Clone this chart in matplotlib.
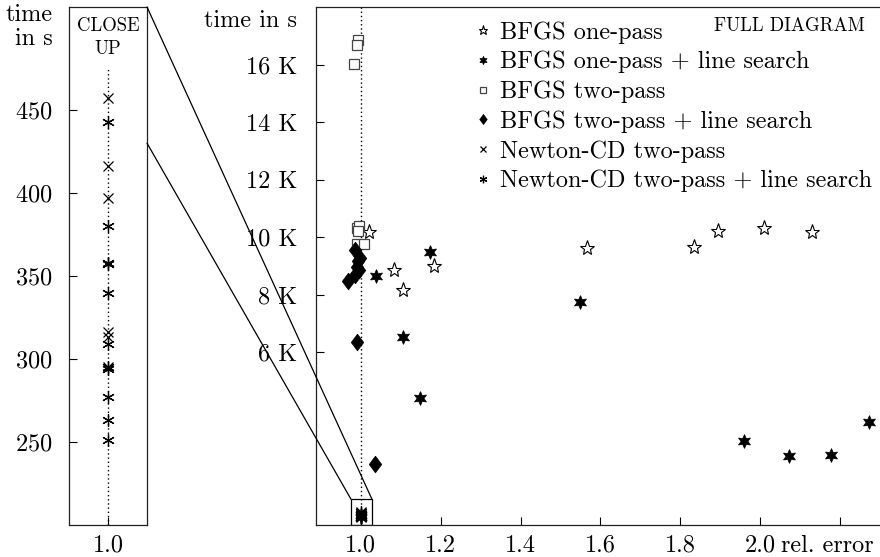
import matplotlib
matplotlib.use("Agg")
import matplotlib.pyplot as plt
from matplotlib.patches import Rectangle, ConnectionPatch
from matplotlib.transforms import ScaledTranslation

plt.rcParams["font.family"] = ["cmr10", "DejaVu Serif"]
plt.rcParams["axes.formatter.use_mathtext"] = True

# ---- data (rel. error, time in s) ----
bfgs1_err = [1.02, 1.0825, 1.105, 1.1825, 1.565, 1.835, 1.895, 2.01, 2.13]
bfgs1_time = [10170, 8850, 8160, 8990, 9620, 9650, 10210, 10310, 10170]

bfgs1ls_err = [1.0375, 1.105, 1.1475, 1.1725, 1.5475, 1.96, 2.0725, 2.1775, 2.2725]
bfgs1ls_time = [8650, 6530, 4410, 9480, 7740, 2920, 2400, 2430, 3580]

bfgs2_err = [0.9925, 0.99, 0.9825, 0.99, 0.995, 0.9925, 0.99, 1.0075]
bfgs2_time = [16870, 16670, 16010, 10310, 10380, 10220, 9760, 9760]

bfgs2ls_err = [0.985, 0.9975, 0.9925, 0.99, 0.995, 0.985, 0.9675, 0.99, 1.035]
bfgs2ls_time = [9550, 9270, 9170, 8960, 8850, 8680, 8470, 6350, 2120]

newton_time = [457, 416, 397, 316, 313, 295]
newton_err = [1.0] * len(newton_time)
newtonls_time = [443, 380, 358, 357, 340, 309, 295, 294, 277, 263, 251]
newtonls_err = [1.0] * len(newtonls_time)

full_yticks = [6000, 8000, 10000, 12000, 14000, 16000]
full_yticklabels = ["6 K", "8 K", "10 K", "12 K", "14 K", "16 K"]
full_xticks = [1.0, 1.2, 1.4, 1.6, 1.8, 2.0, 2.2]
full_xticklabels = ["1.0", "1.2", "1.4", "1.6", "1.8", "2.0", "rel. error"]
close_yticks = [250, 300, 350, 400, 450]

FS = 17.5
diamond = [(0, 1), (0.75, 0), (0, -1), (-0.75, 0), (0, 1)]

series = [
    ("BFGS one-pass", bfgs1_err, bfgs1_time,
     dict(marker="*", ms=11, mfc="white", mec="black", mew=0.8)),
    ("BFGS one-pass + line search", bfgs1ls_err, bfgs1ls_time,
     dict(marker=(6, 1, 0), ms=10, mfc="black", mec="black", mew=0.5)),
    ("BFGS two-pass", bfgs2_err, bfgs2_time,
     dict(marker="s", ms=7, mfc="white", mec="#444444", mew=0.9)),
    ("BFGS two-pass + line search", bfgs2ls_err, bfgs2ls_time,
     dict(marker=diamond, ms=12, mfc="black", mec="black", mew=0.5)),
    ("Newton-CD two-pass", newton_err, newton_time,
     dict(marker="x", ms=7, mfc="none", mec="black", mew=0.9)),
    ("Newton-CD two-pass + line search", newtonls_err, newtonls_time,
     dict(marker=(6, 2, 0), ms=9, mfc="none", mec="black", mew=0.9)),
]

W, H = 880, 557
fig = plt.figure(figsize=(W / 100, H / 100), dpi=100)


def frac(x0, y0, x1, y1):
    return [x0 / W, 1 - y1 / H, (x1 - x0) / W, (y1 - y0) / H]


def shift(pts):
    return ScaledTranslation(-pts / 72, 0, fig.dpi_scale_trans)


ax_c = fig.add_axes(frac(69, 7, 147, 525))
ax_f = fig.add_axes(frac(316, 7, 880, 525))

PAD_C, PAD_F = 12, 13.5
for ax, pad in ((ax_c, PAD_C), (ax_f, PAD_F)):
    ax.tick_params(direction="in", length=6, width=0.8, labelsize=FS)
    ax.tick_params(axis="y", pad=pad)
    ax.tick_params(axis="x", pad=7)
    for sp in ax.spines.values():
        sp.set_linewidth(0.9)
        sp.set_color("#222222")

# ---- close-up panel ----
ax_c.set_xlim(0.975, 1.025)
ax_c.set_ylim(200, 512)
ax_c.axvline(1.0, ymax=(476 - 200) / 312, color="black", ls=(0, (1, 2)), lw=1)
ax_c.plot(newton_err, newton_time, ls="none", **series[4][3])
ax_c.plot(newtonls_err, newtonls_time, ls="none", **series[5][3])
ax_c.set_xticks([1.0])
ax_c.set_xticklabels(["1.0"])
ax_c.set_yticks(close_yticks)
ax_c.text(0, 500, "time\nin s", transform=ax_c.get_yaxis_transform() + shift(PAD_C),
          ha="right", va="center", fontsize=FS, linespacing=1.1)
ax_c.text(0.5, 0.941, "CLOSE\nUP", transform=ax_c.transAxes,
          ha="center", va="center", fontsize=13.5, linespacing=1.35)

# ---- full panel ----
ax_f.set_xlim(0.8875, 2.3)
ax_f.set_ylim(0, 18000)
ax_f.spines["right"].set_visible(False)
ax_f.axvline(1.0, color="black", ls=(0, (1, 2)), lw=1)
for label, xs, ys, st in series:
    ax_f.plot(xs, ys, ls="none", label=label, **st)
ax_f.set_xticks(full_xticks)
ax_f.set_xticklabels(full_xticklabels)
ax_f.set_yticks(full_yticks)
ax_f.set_yticklabels(full_yticklabels)
# last x label sits a little left of its tick in the original
last = ax_f.get_xticklabels()[-1]
last.set_transform(last.get_transform() + shift(9))
ax_f.text(0, 17500, "time in s", transform=ax_f.get_yaxis_transform() + shift(PAD_F),
          ha="right", va="center", fontsize=FS)
ax_f.text(0.973, 0.963, "FULL DIAGRAM", transform=ax_f.transAxes,
          ha="right", va="center", fontsize=13.5)

box_x0, box_x1, box_top = 0.975, 1.0275, 900
ax_f.add_patch(Rectangle((box_x0, 0), box_x1 - box_x0, box_top,
                         fill=False, ec="black", lw=0.9, zorder=3))

leg = ax_f.legend(loc="upper left", bbox_to_anchor=(476 / W, 1 - 21 / H),
                  bbox_transform=fig.transFigure, frameon=False, fontsize=FS,
                  markerscale=0.6, handlelength=0.6, handletextpad=0.4,
                  labelspacing=0.3, borderpad=0, borderaxespad=0)

# ---- zoom connection lines ----
for ya, xb in [(512, box_x1), (430, box_x0)]:
    con = ConnectionPatch(xyA=(1.025, ya), coordsA=ax_c.transData,
                          xyB=(xb, box_top), coordsB=ax_f.transData,
                          color="black", lw=0.9)
    fig.add_artist(con)

fig.savefig("out.png", dpi=100)
